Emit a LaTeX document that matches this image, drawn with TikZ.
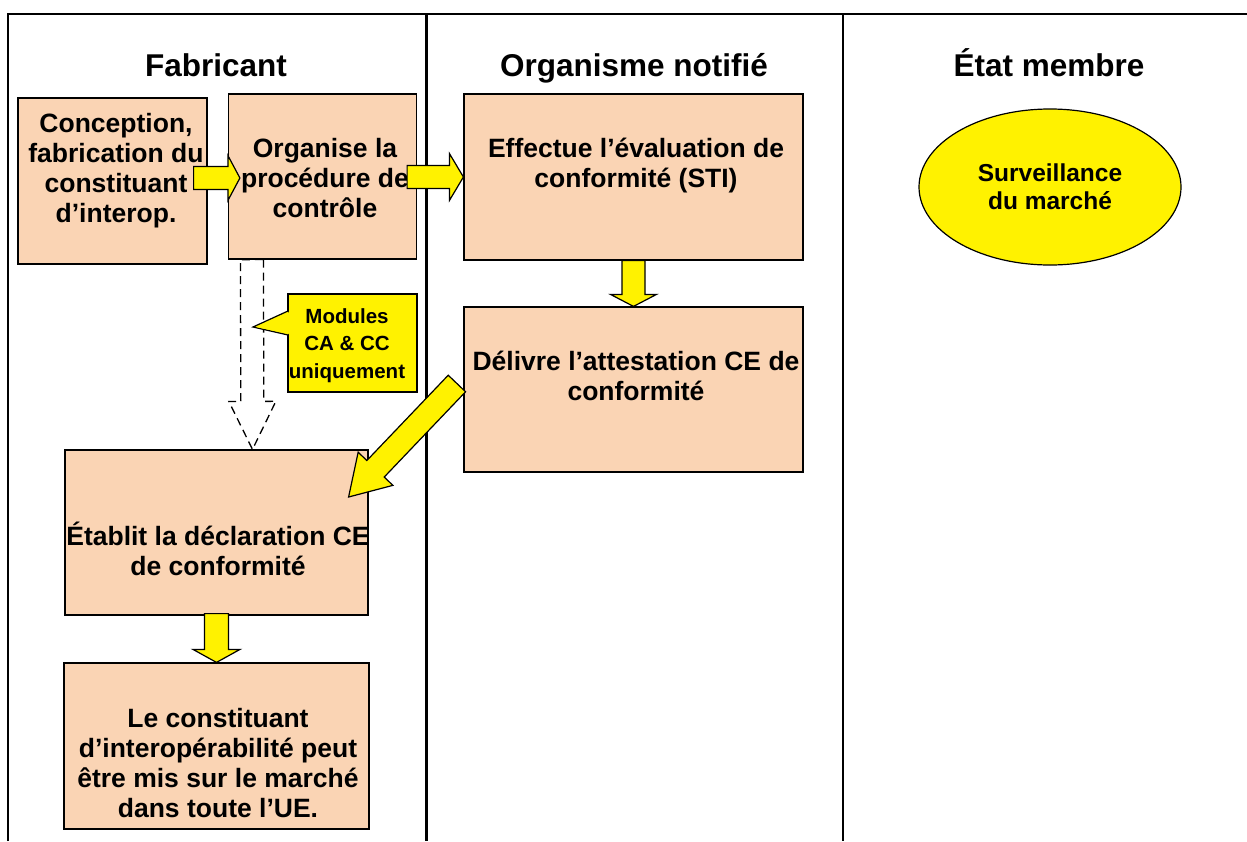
\documentclass[tikz,border=0pt]{standalone}
\usepackage{fontspec}
\setmainfont{Liberation Sans}
\usetikzlibrary{calc,shapes.geometric}
\definecolor{peach}{RGB}{250,212,180}

% fat block arrow: [style]{start}{tip}{shaft half width}{head half width}{head length}
\newcommand{\bigarrow}[6][yarrow]{%
  \coordinate (bas) at #2;
  \coordinate (bat) at #3;
  \coordinate (bah) at ($(bat)!#6!(bas)$);
  \draw[#1] ($(bas)!#4!90:(bat)$) -- ($(bah)!#4!90:(bat)$) -- ($(bah)!#5!90:(bat)$) -- (bat)
    -- ($(bah)!#5!-90:(bat)$) -- ($(bah)!#4!-90:(bat)$) -- ($(bas)!#4!-90:(bat)$) -- cycle;
}

\begin{document}
\begin{tikzpicture}[x=1pt,y=-1pt]
\tikzstyle{box}= [rectangle,draw=black,line width=1.2pt,fill=peach,inner sep=0]
\tikzstyle{txt}= [font=\bfseries\fontsize{26.5}{29.7}\selectfont,align=center,inner sep=0,anchor=base]
\tikzstyle{head}= [font=\bfseries\fontsize{31.5}{36}\selectfont,inner sep=0,anchor=base]
\tikzstyle{yarrow}= [fill=yellow,draw=black,line width=1.2pt]
\tikzstyle{darrow}= [draw=black,line width=1.3pt,dash pattern=on 8pt off 5pt]

\useasboundingbox (0,0) rectangle (1247,841);

% lanes
\draw[line width=1.5pt] (8,841) -- (8,14) -- (1247,14);
\draw[line width=3pt] (426,14) -- (426,841);
\draw[line width=2pt] (843,14) -- (843,841);

\path
	(216,76)  node[head] (hfab) {Fabricant}
	(634,76)  node[head] (hon)  {Organisme notifié}
	(1049,76) node[head] (hem)  {État membre}
	(112.5,181) node[box,minimum width=189,minimum height=166] (a) {}
	(322.5,176.5) node[box,minimum width=188,minimum height=165] (b) {}
	(633.5,177) node[box,minimum width=339,minimum height=166] (c) {}
	(633.5,389.5) node[box,minimum width=339,minimum height=165] (d) {}
	(216.5,532.5) node[box,minimum width=303,minimum height=165] (e) {}
	(216.5,746) node[box,minimum width=305,minimum height=166] (f) {}
;
% text: anchor base = last line
\path
	(116,222) node[txt] (ta) {Conception,\\fabrication du\\constituant\\d’interop.}
	(325,217) node[txt] (tb) {Organise la\\procédure de\\contrôle}
	(636,187) node[txt] (tc) {Effectue l’évaluation de\\conformité (STI)}
	(636,400) node[txt] (td) {Délivre l’attestation CE de\\conformité}
	(218,575) node[txt] (te) {Établit la déclaration CE\\de conformité}
	(218,817) node[txt] (tf) {Le constituant\\d’interopérabilité peut\\être mis sur le marché\\dans toute l’UE.}
;
\node[ellipse,draw=black,line width=1.2pt,fill=yellow,minimum width=262,minimum height=156,
  align=center,font=\bfseries\fontsize{24.5}{28}\selectfont] (sm) at (1050,187) {Surveillance\\du marché};

% dashed arrow (modules CA & CC)
\bigarrow[darrow]{($(b.south west)+(24,0)$)}{($(e.north)+(36,0)$)}{11.5pt}{23.5pt}{48pt}
\draw[yarrow] (288,294) rectangle (417,392);
\draw[yarrow] (288,311) -- (253,327) -- (288,335);
\fill[yellow] (289.5,312) -- (256,327) -- (289.5,334) -- cycle;
\node[txt,font=\bfseries\fontsize{20.5}{27.5}\selectfont] (mod) at (347,378) {Modules\\CA \& CC\\uniquement};

% yellow arrows
\bigarrow{($(a.east)+(-14,-3)$)}{($(b.west)+(12,1.5)$)}{11.5pt}{22.5pt}{12pt}
\bigarrow{($(b.east)+(-10,0.5)$)}{(c.west)}{11.5pt}{23.5pt}{14pt}
\bigarrow{(c.south)}{(d.north)}{11.5pt}{23pt}{12pt}
\bigarrow{($(d.west)+(-6.5,-6)$)}{($(e.east)+(-20,-35.5)$)}{12pt}{24pt}{39pt}
\bigarrow{($(e.south)+(0,-2)$)}{(f.north)}{12pt}{23.5pt}{13pt}
\end{tikzpicture}
\end{document}
